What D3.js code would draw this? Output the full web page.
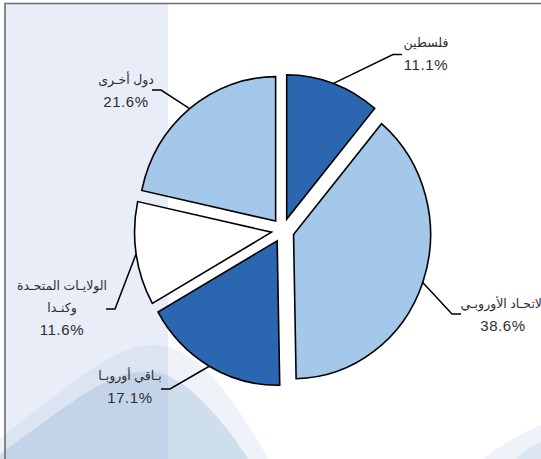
<!DOCTYPE html>
<html>
<head>
<meta charset="utf-8">
<script src="https://cdn.jsdelivr.net/npm/d3@7"></script>
<style>
  html, body { margin: 0; padding: 0; background: #fff; overflow: hidden; }
  text { font-family: "Liberation Sans", "DejaVu Sans", sans-serif; fill: #2e2e2e; }
</style>
</head>
<body>
<div id="chart"></div>
<script>
// data
let categories = ["فلسطين", "الاتحاد الأوروبي", "باقي أوروبا", "الولايات المتحدة وكندا", "دول أخرى"];
let nameLines = [["فلسطين"], ["الاتحـاد الأوروبـي"], ["بـاقي أوروبـا"], ["الولايـات المتحـدة", "وكنـدا"], ["دول أخـرى"]];
let shares = [11.1, 38.6, 17.1, 11.6, 21.6];
let sliceColors = ["#2b67b1", "#a4c8ea", "#2b67b1", "#ffffff", "#a4c8ea"];

// label layout (knee of leader line, label centre)
let knees = [[393, 54.5], [452, 314], [170, 389], [115, 309], [161, 90]];
let labelCenters = [[426, 53.5], [503, 315], [130, 386.5], [62, 308], [126, 91]];

let W = 541, H = 459;
let svg = d3.select("#chart").append("svg")
  .attr("width", W)
  .attr("height", H);

// background decoration
svg.append("rect").attr("width", W).attr("height", H).attr("fill", "#fff");

let wave = d3.line().curve(d3.curveBasis);
let outerHump = [[-10, 448], [0, 438], [70, 383], [120, 350], [160, 341], [200, 360], [232, 400], [258, 440], [274, 470]];
let innerHump = [[-10, 462], [0, 454], [60, 410], [100, 383], [135, 370], [170, 372], [205, 402], [235, 438], [255, 470]];
let cornerOuter = [[470, 470], [500, 445], [541, 424], [560, 420]];
let cornerInner = [[505, 470], [525, 450], [541, 441], [560, 436]];

svg.append("path").attr("d", wave(outerHump) + "L274,470L-10,470Z").attr("fill", "#eff3f9");
svg.append("path").attr("d", wave(innerHump) + "L255,470L-10,470Z").attr("fill", "#cfdeed");
svg.append("path").attr("d", wave(cornerOuter) + "L560,470Z").attr("fill", "#eff3f9");
svg.append("path").attr("d", wave(cornerInner) + "L560,470Z").attr("fill", "#dbe6f2");

// left panel
svg.append("rect")
  .attr("x", 5).attr("y", 3)
  .attr("width", 163).attr("height", H)
  .attr("fill", "#9fb4dc")
  .attr("opacity", 0.24);

// frame
svg.append("path")
  .attr("d", "M5," + H + "V3.5H" + W)
  .attr("fill", "none")
  .attr("stroke", "#6d6d6d")
  .attr("stroke-width", 1.6);

// pie
let cx = 282.8, cy = 230.4, r = 137, yScale = 1.054, explode = 11.4;

let pie = d3.pie().sort(null).value(d => d);
let arcs = pie(shares);
let arc = d3.arc().innerRadius(0).outerRadius(r);

let g = svg.append("g")
  .attr("transform", "translate(" + cx + "," + cy + ") scale(1," + yScale + ")");

g.selectAll("path.slice")
  .data(arcs)
  .enter()
  .append("path")
  .attr("class", "slice")
  .attr("d", arc)
  .attr("transform", function(d){
    let m = (d.startAngle + d.endAngle) / 2;
    return "translate(" + (explode * Math.sin(m)) + "," + (-explode * Math.cos(m)) + ")";
  })
  .attr("fill", (d, i) => sliceColors[i])
  .attr("stroke", "#000")
  .attr("stroke-width", 1.6)
  .attr("vector-effect", "non-scaling-stroke")
  .attr("stroke-linejoin", "miter");

// leader lines
function leaderStart(d){
  let m = (d.startAngle + d.endAngle) / 2;
  return [cx + (r + explode) * Math.sin(m), cy - (r + explode) * Math.cos(m) * yScale];
}

svg.selectAll("path.leader")
  .data(arcs)
  .enter()
  .append("path")
  .attr("class", "leader")
  .attr("d", function(d, i){
    let s = leaderStart(d);
    let k = knees[i];
    let dir = k[0] > cx ? 1 : -1;
    return "M" + s[0] + "," + s[1] + "L" + k[0] + "," + k[1] + "H" + (k[0] + dir * 9);
  })
  .attr("fill", "none")
  .attr("stroke", "#000")
  .attr("stroke-width", 1.5);

// labels
let labels = svg.selectAll("g.label")
  .data(arcs)
  .enter()
  .append("g")
  .attr("class", "label");

labels.each(function(d, i){
  let lines = nameLines[i];
  let c = labelCenters[i];
  let step = 22;
  let total = lines.length + 1;
  let top = c[1] - (total - 1) * step / 2;
  let sel = d3.select(this);
  lines.forEach(function(t, j){
    sel.append("text")
      .attr("x", c[0])
      .attr("y", top + j * step)
      .attr("dy", "0.35em")
      .attr("text-anchor", "middle")
      .style("font-size", "12.5px")
      .text(t);
  });
  sel.append("text")
    .attr("x", c[0])
    .attr("y", top + lines.length * step)
    .attr("dy", "0.35em")
    .attr("text-anchor", "middle")
    .style("font-size", "15px")
    .style("letter-spacing", "0.6px")
    .text(d3.format(".1f")(shares[i]) + "%");
});
</script>
</body>
</html>
